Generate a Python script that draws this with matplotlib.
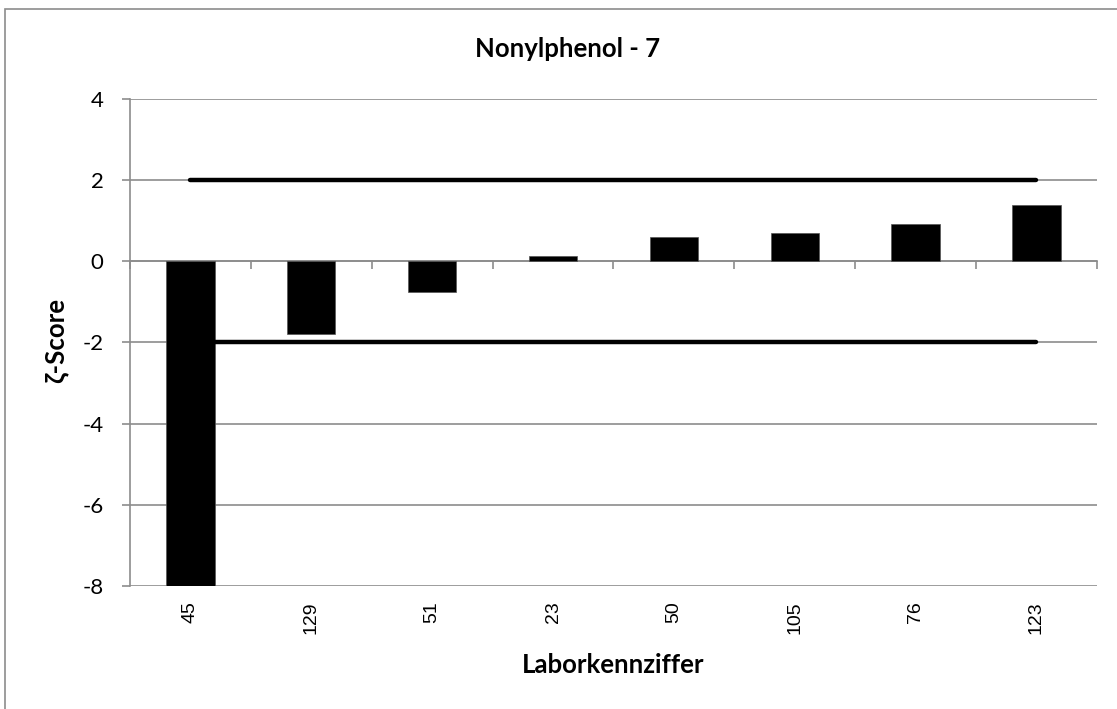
import matplotlib
matplotlib.use("Agg")
import matplotlib.pyplot as plt
import numpy as np

# Daten
labore = ["45", "129", "51", "23", "50", "105", "76", "123"]
zeta = [-8.0, -1.78, -0.75, 0.13, 0.59, 0.69, 0.92, 1.38]
grenze_oben = [2, 2, 2, 2, 2, 2, 2, 2]
grenze_unten = [-2, -2, -2, -2, -2, -2, -2, -2]
y_ticks = [4, 2, 0, -2, -4, -6, -8]

plt.rcParams['font.family'] = ['Lato', 'DejaVu Sans']
GRAU = '#8c8c8c'

fig = plt.figure(figsize=(11.17, 7.09), dpi=100)
ax = fig.add_axes([0.1164, 0.174, 0.8656, 0.686])

x = np.arange(len(labore))
ax.bar(x, zeta, width=0.4, color='black', edgecolor='#555555', lw=0.5, zorder=3)
ax.plot(x, grenze_oben, color='black', lw=3.2, solid_capstyle='round', zorder=4)
ax.plot(x, grenze_unten, color='black', lw=3.2, solid_capstyle='round', zorder=4)

ax.set_xlim(-0.5, len(labore) - 0.5)
ax.set_ylim(-8, 4)
ax.set_yticks(y_ticks)
ax.set_yticklabels([str(v) for v in y_ticks], fontsize=16)
ax.yaxis.grid(True, color=GRAU, lw=1.2, zorder=0)
ax.tick_params(axis='y', length=6, width=1.2, color=GRAU, pad=13)

# Kategorienachse bei 0 mit Teilstrichen zwischen den Kategorien
for s in ['top', 'right']:
    ax.spines[s].set_visible(False)
ax.spines['left'].set_color(GRAU)
ax.spines['left'].set_linewidth(1.2)
ax.spines['bottom'].set_position(('data', 0))
ax.spines['bottom'].set_color(GRAU)
ax.spines['bottom'].set_linewidth(1.2)
ax.set_xticks(x)
ax.set_xticklabels([])
ax.tick_params(axis='x', which='major', length=0)
ax.set_xticks(np.arange(len(labore) + 1) - 0.5, minor=True)
ax.tick_params(axis='x', which='minor', length=6, width=1.2, color=GRAU, direction='out')

sec = ax.secondary_xaxis(0)
sec.set_xticks(x)
sec.set_xticklabels(labore, rotation=90, fontsize=14, family='Liberation Sans')
sec.tick_params(length=0, pad=11.5)
sec.spines['bottom'].set_visible(False)

fig.text(0.508, 0.9196, "Nonylphenol - 7", fontsize=18.5, fontweight='bold',
         ha='center', va='baseline')
fig.text(0.5488, 0.0508, "Laborkennziffer", fontsize=18.5, fontweight='bold',
         ha='center', va='baseline')
fig.text(0.050, 0.520, "ζ-Score", fontsize=18.5, fontweight='bold',
         rotation=90, ha='center', va='center')

# Rahmen um das Diagramm (rechts und unten abgeschnitten)
rahmen = plt.Rectangle((0.0045, -0.05), 1.05, 1.037, transform=fig.transFigure,
                       fill=False, edgecolor=GRAU, lw=1.2)
fig.patches.append(rahmen)

fig.savefig("out.png", dpi=100)
